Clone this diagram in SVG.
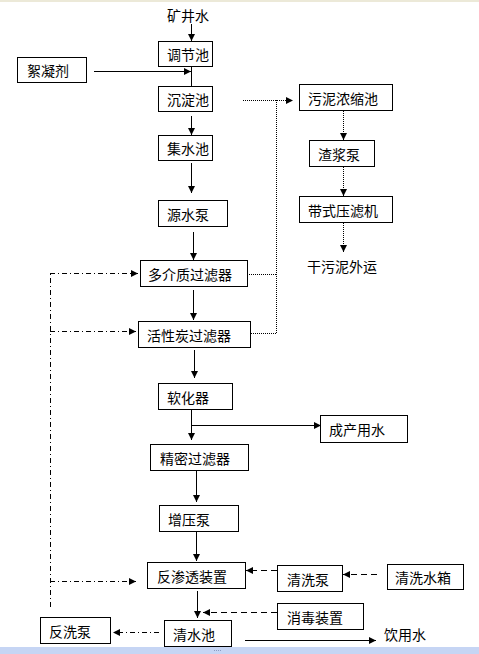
<svg xmlns="http://www.w3.org/2000/svg" width="479" height="654" viewBox="0 0 479 654">
<style>
.box{fill:#fff;stroke:#000;stroke-width:1}
.t{font-family:"Noto Sans CJK SC","Liberation Sans",sans-serif;font-size:14px;fill:#000}
.s{stroke:#000;stroke-width:1;fill:none}
.dot{stroke:#000;stroke-width:1;fill:none;stroke-dasharray:1 1}
.dd{stroke:#000;stroke-width:1;fill:none;stroke-dasharray:5 3 1 3}
.da{stroke:#000;stroke-width:1;fill:none;stroke-dasharray:6 4}
</style>
<defs>
<marker id="ah" markerUnits="userSpaceOnUse" markerWidth="7" markerHeight="7" refX="7" refY="3.5" orient="auto">
<path d="M0,0 L7,3.5 L0,7 z" fill="#000"/>
</marker>
</defs>
<rect x="0" y="0" width="479" height="654" fill="#fff"/>
<rect x="0" y="0" width="479" height="2" fill="#ece9d8"/>
<rect x="0" y="647" width="479" height="7" fill="#c6d5f4"/>
<g fill="#8a9cc4"><rect x="214" y="650" width="1" height="1"/><rect x="216" y="650" width="1" height="1"/><rect x="218" y="650" width="1" height="1"/><rect x="220" y="650" width="1" height="1"/></g>

<g id="connectors">
<line class="s" x1="191.5" y1="24" x2="191.5" y2="41" marker-end="url(#ah)"/>
<line class="s" x1="94" y1="71.5" x2="191" y2="71.5" marker-end="url(#ah)"/>
<line class="s" x1="191.5" y1="66" x2="191.5" y2="86"/>
<line class="s" x1="191.5" y1="116" x2="191.5" y2="135" marker-end="url(#ah)"/>
<line class="s" x1="191.5" y1="163" x2="191.5" y2="193" marker-end="url(#ah)"/>
<line class="s" x1="193.5" y1="232" x2="193.5" y2="260" marker-end="url(#ah)"/>
<line class="s" x1="193.5" y1="290" x2="193.5" y2="320" marker-end="url(#ah)"/>
<line class="s" x1="194.5" y1="350" x2="194.5" y2="378" marker-end="url(#ah)"/>
<line class="s" x1="191.5" y1="409" x2="191.5" y2="440" marker-end="url(#ah)"/>
<line class="s" x1="191" y1="425.5" x2="321" y2="425.5" marker-end="url(#ah)"/>
<line class="s" x1="196.5" y1="471" x2="196.5" y2="502" marker-end="url(#ah)"/>
<line class="s" x1="196.5" y1="531" x2="196.5" y2="561" marker-end="url(#ah)"/>
<line class="s" x1="197.5" y1="591" x2="197.5" y2="618" marker-end="url(#ah)"/>
<line class="s" x1="245" y1="640.5" x2="376" y2="640.5" marker-end="url(#ah)"/>
<line class="da" x1="277" y1="612.5" x2="203" y2="612.5" marker-end="url(#ah)"/>
<line class="da" x1="277" y1="570.5" x2="246" y2="570.5" marker-end="url(#ah)"/>
<line class="da" x1="377" y1="574.5" x2="343" y2="574.5" marker-end="url(#ah)"/>
<line class="dd" x1="159" y1="632.5" x2="113" y2="632.5" marker-end="url(#ah)"/>
<line class="dd" x1="50.5" y1="607" x2="50.5" y2="273.5"/>
<line class="dd" x1="50" y1="273.5" x2="138" y2="273.5" marker-end="url(#ah)"/>
<line class="dd" x1="50" y1="331.5" x2="136" y2="331.5" marker-end="url(#ah)"/>
<line class="dd" x1="50" y1="581.5" x2="136" y2="581.5" marker-end="url(#ah)"/>
<line class="dot" x1="243" y1="100.5" x2="293" y2="100.5" marker-end="url(#ah)"/>
<line class="dot" x1="276.5" y1="100" x2="276.5" y2="333"/>
<line class="dot" x1="247" y1="274.5" x2="277" y2="274.5"/>
<line class="dot" x1="251" y1="333.5" x2="277" y2="333.5"/>
<line class="dot" x1="343.5" y1="111" x2="343.5" y2="140" marker-end="url(#ah)"/>
<line class="dot" x1="343.5" y1="167" x2="343.5" y2="196" marker-end="url(#ah)"/>
<line class="dot" x1="343.5" y1="223" x2="343.5" y2="252" marker-end="url(#ah)"/>
</g>

<g id="n-kjs"><text class="t" x="167" y="21">矿井水</text></g>
<g id="n-tjc"><rect class="box" x="158.5" y="41.5" width="54" height="25"/><text class="t" x="167" y="60">调节池</text></g>
<g id="n-xnj"><rect class="box" x="17.5" y="57.5" width="69" height="25"/><text class="t" x="27" y="76">絮凝剂</text></g>
<g id="n-cdc"><rect class="box" x="158.5" y="86.5" width="54" height="25"/><text class="t" x="167" y="105">沉淀池</text></g>
<g id="n-jsc"><rect class="box" x="158.5" y="135.5" width="54" height="25"/><text class="t" x="167" y="154">集水池</text></g>
<g id="n-ysb"><rect class="box" x="158.5" y="200.5" width="69" height="26"/><text class="t" x="167" y="220">源水泵</text></g>
<g id="n-djz"><rect class="box" x="140.5" y="260.5" width="107" height="26"/><text class="t" x="148" y="280">多介质过滤器</text></g>
<g id="n-hxt"><rect class="box" x="138.5" y="321.5" width="112" height="26"/><text class="t" x="147" y="341">活性炭过滤器</text></g>
<g id="n-rhq"><rect class="box" x="158.5" y="383.5" width="74" height="26"/><text class="t" x="167" y="403">软化器</text></g>
<g id="n-jmg"><rect class="box" x="150.5" y="444.5" width="98" height="26"/><text class="t" x="160" y="464">精密过滤器</text></g>
<g id="n-zyb"><rect class="box" x="159.5" y="505.5" width="79" height="26"/><text class="t" x="168" y="525">增压泵</text></g>
<g id="n-fst"><rect class="box" x="147.5" y="562.5" width="98" height="26"/><text class="t" x="157" y="582">反渗透装置</text></g>
<g id="n-qsc"><rect class="box" x="164.5" y="620.5" width="67" height="26"/><text class="t" x="173" y="640">清水池</text></g>
<g id="n-fxb"><rect class="box" x="40.5" y="617.5" width="70" height="26"/><text class="t" x="49" y="637">反洗泵</text></g>
<g id="n-wnn"><rect class="box" x="299.5" y="84.5" width="93" height="26"/><text class="t" x="308" y="104">污泥浓缩池</text></g>
<g id="n-zjb"><rect class="box" x="309.5" y="140.5" width="65" height="26"/><text class="t" x="318" y="160">渣浆泵</text></g>
<g id="n-dsy"><rect class="box" x="299.5" y="196.5" width="93" height="26"/><text class="t" x="308" y="216">带式压滤机</text></g>
<g id="n-gwn"><text class="t" x="307" y="272">干污泥外运</text></g>
<g id="n-ccy"><rect class="box" x="320.5" y="415.5" width="87" height="27"/><text class="t" x="329" y="435">成产用水</text></g>
<g id="n-qxb"><rect class="box" x="277.5" y="565.5" width="65" height="26"/><text class="t" x="287" y="585">清洗泵</text></g>
<g id="n-qxx"><rect class="box" x="387.5" y="564.5" width="76" height="25"/><text class="t" x="395" y="583">清洗水箱</text></g>
<g id="n-xdz"><rect class="box" x="277.5" y="603.5" width="86" height="26"/><text class="t" x="287" y="623">消毒装置</text></g>
<g id="n-yys"><text class="t" x="384" y="640">饮用水</text></g>
</svg>
